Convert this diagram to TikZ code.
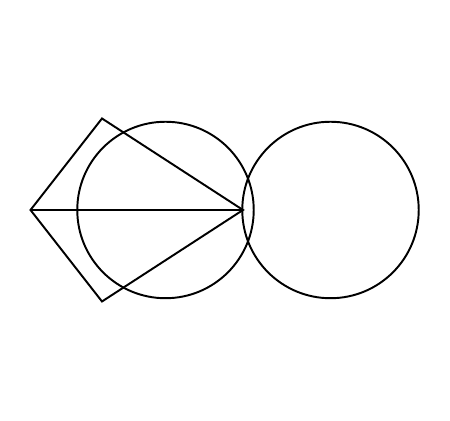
\documentclass[tikz,border=0pt]{standalone}
\usetikzlibrary{positioning}
\tikzstyle{edge}=[draw,line width=1.1pt,line join=miter]
\tikzstyle{ring}=[draw,circle,line width=1.1pt,inner sep=0pt,minimum size=3.53cm]

\begin{document}
\begin{tikzpicture}[x=0.02cm,y=0.02cm]
    \useasboundingbox (0,0) rectangle (450,421);
    \coordinate (A) at (30.5,211);
    \coordinate (B) at (102,302.5);
    \coordinate (C) at (243,211);
    \coordinate (D) at (102,119.5);
    \node[ring] (left) at (165.5,211) {};
    \node[ring] (right) at (330.5,211) {};
    \draw[edge] (A) -- (B) -- (C) -- (D) -- cycle;
    \draw[edge] (A) -- (C);
\end{tikzpicture}
\end{document}
